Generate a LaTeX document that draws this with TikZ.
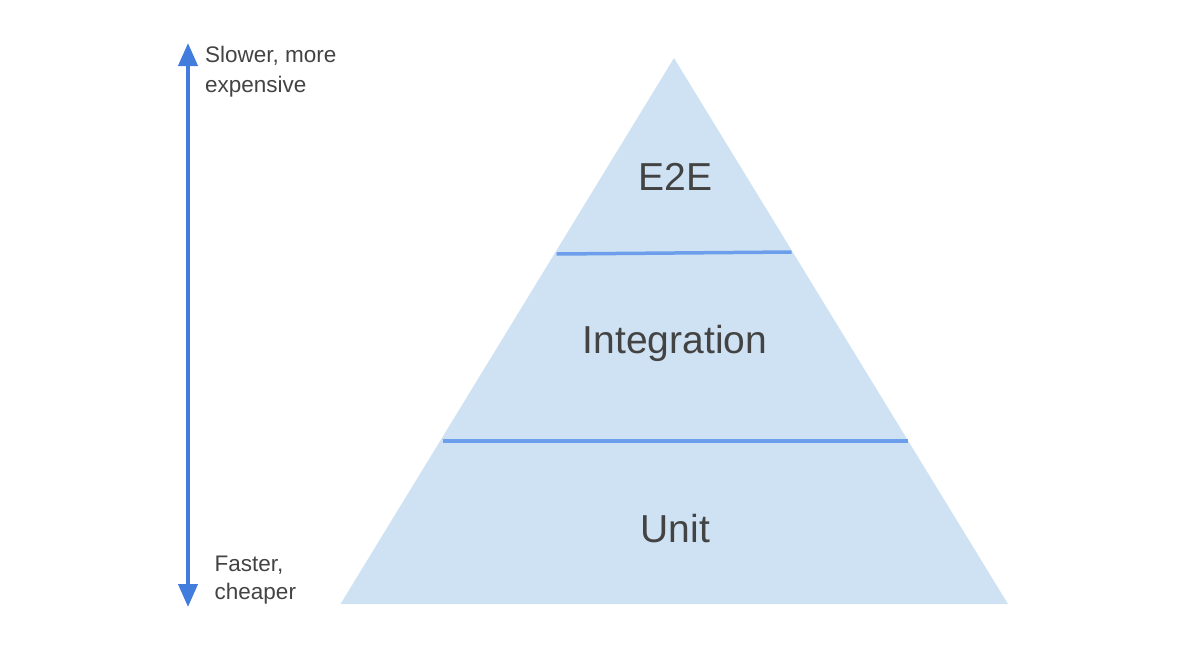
\documentclass[tikz,border=0pt]{standalone}
\usepackage{fontspec}
\setmainfont{Liberation Sans}
\usetikzlibrary{arrows.meta}
\definecolor{pyramidfill}{RGB}{207, 226, 243}
\definecolor{pyramidline}{RGB}{109, 158, 235}
\definecolor{scaleblue}{RGB}{66, 125, 222}
\definecolor{labelgray}{RGB}{67, 67, 67}

\begin{document}
\begin{tikzpicture}[x=1pt, y=-1pt]
\useasboundingbox (0,0) rectangle (1200,654);
% pyramid
\coordinate (apex) at (674,58);
\coordinate (baseL) at (340.5,604);
\coordinate (baseR) at (1008,604);
\fill[pyramidfill] (apex) -- (baseL) -- (baseR) -- cycle;
\coordinate (topL) at (556.5,254);
\coordinate (topR) at (791.5,252);
\coordinate (midL) at (442.5,441);
\coordinate (midR) at (908,441);
\draw[pyramidline, line width=3.5pt] (topL) -- (topR);
\draw[pyramidline, line width=3.5pt] (midL) -- (midR);
\node[anchor=base, text=labelgray, font=\fontsize{39}{47}\selectfont] (e2e) at (675.5,190) {E2E};
\node[anchor=base, text=labelgray, font=\fontsize{39}{47}\selectfont] (integration) at (675,353) {Integration};
\node[anchor=base, text=labelgray, font=\fontsize{39}{47}\selectfont] (unit) at (675.5,542) {Unit};
% cost scale
\coordinate (slow) at (188,43);
\coordinate (fast) at (188,607);
\draw[scaleblue, line width=4pt, {Triangle[length=23pt,width=19pt]}-{Triangle[length=23pt,width=19pt]}] (fast) -- (slow);
\node[anchor=north west, inner sep=0pt, align=left, text=labelgray, font=\fontsize{22.5}{30.5}\selectfont] (slower) at (205,45.5) {Slower, more\\expensive};
\node[anchor=north west, inner sep=0pt, align=left, text=labelgray, font=\fontsize{22.5}{28}\selectfont] (faster) at (214.5,556) {Faster,\\cheaper};
\end{tikzpicture}
\end{document}
